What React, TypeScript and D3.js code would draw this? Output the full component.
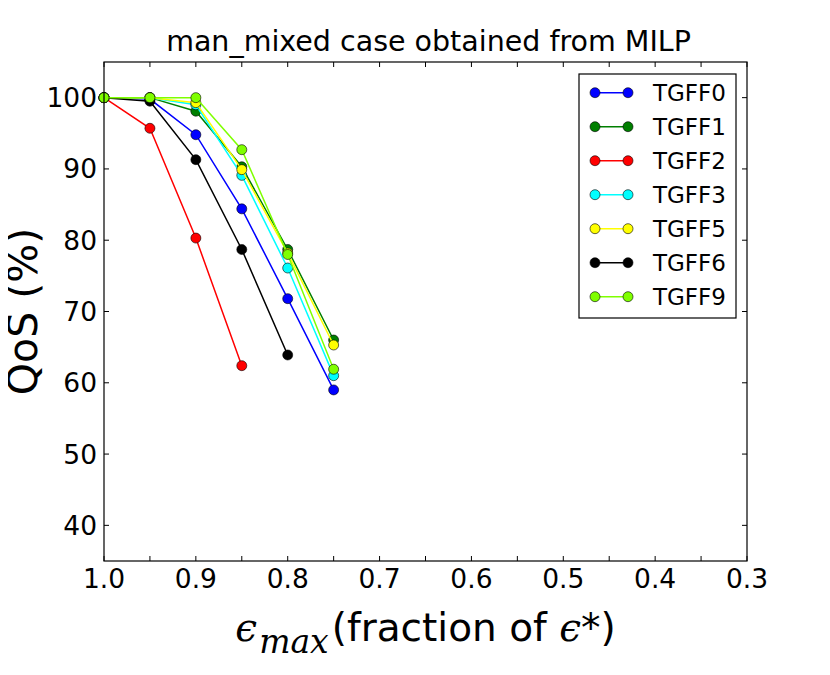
import * as d3 from "d3";
import { useEffect, useRef } from "react";

// x positions (fraction of epsilon*)
const fractions = [1.0, 0.95, 0.9, 0.85, 0.8, 0.75];

const seriesNames = ["TGFF0", "TGFF1", "TGFF2", "TGFF3", "TGFF5", "TGFF6", "TGFF9"];
const seriesColors = ["#0000ff", "#007f00", "#ff0000", "#00ffff", "#ffff00", "#000000", "#7fff00"];

// QoS (%) values
const tgff0 = [100, 99.8, 94.8, 84.4, 71.8, 59.0];
const tgff1 = [100, 100, 98.1, 90.3, 78.7, 66.0];
const tgff2 = [100, 95.7, 80.3, 62.4];
const tgff3 = [100, 100, 99.0, 89.1, 76.1, 61.0];
const tgff5 = [100, 100, 99.3, 89.9, 78.2, 65.3];
const tgff6 = [100, 99.5, 91.3, 78.7, 63.9];
const tgff9 = [100, 100, 100, 92.7, 78.0, 61.9];

const seriesValues = [tgff0, tgff1, tgff2, tgff3, tgff5, tgff6, tgff9];

const xTicks = [1.0, 0.9, 0.8, 0.7, 0.6, 0.5, 0.4, 0.3];
const yTicks = [40, 50, 60, 70, 80, 90, 100];

function App() {
  const ref = useRef<SVGSVGElement>(null);

  useEffect(() => {
    const svg = d3.select(ref.current);
    svg.selectAll("*").remove();

    const left = 104;
    const right = 747;
    const top = 62;
    const bottom = 561;
    const font = "DejaVu Sans, sans-serif";

    const x = d3.scaleLinear().domain([1.0, 0.3]).range([left, right]);
    const y = d3.scaleLinear().domain([35, 105]).range([bottom, top]);

    svg.append("rect").attr("width", 830).attr("height", 675).attr("fill", "white");

    // ticks on all four sides, pointing inward
    const xMinor = d3.range(0, 15).map((i) => 1.0 - i * 0.05);
    const g = svg.append("g");
    xMinor.forEach((v) => {
      g.append("line").attr("x1", x(v)).attr("x2", x(v)).attr("y1", bottom).attr("y2", bottom - 5).attr("stroke", "black");
      g.append("line").attr("x1", x(v)).attr("x2", x(v)).attr("y1", top).attr("y2", top + 5).attr("stroke", "black");
    });
    yTicks.forEach((v) => {
      g.append("line").attr("x1", left).attr("x2", left + 5).attr("y1", y(v)).attr("y2", y(v)).attr("stroke", "black");
      g.append("line").attr("x1", right).attr("x2", right - 5).attr("y1", y(v)).attr("y2", y(v)).attr("stroke", "black");
    });

    // tick labels
    svg
      .selectAll(".xt")
      .data(xTicks)
      .enter()
      .append("text")
      .attr("x", (d) => x(d))
      .attr("y", bottom + 27)
      .attr("text-anchor", "middle")
      .attr("font-family", font)
      .attr("font-size", 26.5)
      .text((d) => d.toFixed(1));

    svg
      .selectAll(".yt")
      .data(yTicks)
      .enter()
      .append("text")
      .attr("x", left - 7)
      .attr("y", (d) => y(d) + 9.5)
      .attr("text-anchor", "end")
      .attr("font-family", font)
      .attr("font-size", 26.5)
      .text((d) => d);

    // series
    const line = d3
      .line<number>()
      .x((_, i) => x(fractions[i]))
      .y((d) => y(d));

    seriesValues.forEach((vals, s) => {
      svg.append("path").attr("d", line(vals)).attr("fill", "none").attr("stroke", seriesColors[s]).attr("stroke-width", 1.5);
      svg
        .selectAll(".m" + s)
        .data(vals)
        .enter()
        .append("circle")
        .attr("cx", (_, i) => x(fractions[i]))
        .attr("cy", (d) => y(d))
        .attr("r", 5)
        .attr("fill", seriesColors[s])
        .attr("stroke", "black")
        .attr("stroke-width", 0.6);
    });

    // frame
    svg
      .append("rect")
      .attr("x", left)
      .attr("y", top)
      .attr("width", right - left)
      .attr("height", bottom - top)
      .attr("fill", "none")
      .attr("stroke", "black")
      .attr("stroke-width", 1.2);

    // legend
    const lg = svg.append("g");
    lg.append("rect")
      .attr("x", 579)
      .attr("y", 74)
      .attr("width", 157)
      .attr("height", 244)
      .attr("fill", "white")
      .attr("stroke", "black")
      .attr("stroke-width", 1.2);
    seriesNames.forEach((name, i) => {
      const ly = 92.7 + i * 34;
      lg.append("line").attr("x1", 595).attr("x2", 628).attr("y1", ly).attr("y2", ly).attr("stroke", seriesColors[i]).attr("stroke-width", 1.5);
      [595, 628].forEach((cx) =>
        lg.append("circle").attr("cx", cx).attr("cy", ly).attr("r", 5).attr("fill", seriesColors[i]).attr("stroke", "black").attr("stroke-width", 0.6)
      );
      lg.append("text")
        .attr("x", 653)
        .attr("y", ly + 8.3)
        .attr("font-family", font)
        .attr("font-size", 23)
        .text(name);
    });

    // title
    svg
      .append("text")
      .attr("x", (left + right) / 2 + 3)
      .attr("y", 51)
      .attr("text-anchor", "middle")
      .attr("font-family", font)
      .attr("font-size", 28.5)
      .text("man_mixed case obtained from MILP");

    // y label
    svg
      .append("text")
      .attr("transform", `translate(37, ${(top + bottom) / 2}) rotate(-90)`)
      .attr("text-anchor", "middle")
      .attr("font-family", font)
      .attr("font-size", 41)
      .text("QoS (%)");

    // x label
    const xl = svg
      .append("text")
      .attr("x", (left + right) / 2)
      .attr("y", 641)
      .attr("text-anchor", "middle")
      .attr("font-family", font)
      .attr("font-size", 39);
    xl.append("tspan").attr("font-family", "DejaVu Serif, serif").attr("font-style", "italic").text("ϵ");
    xl.append("tspan")
      .attr("font-family", "DejaVu Serif, serif")
      .attr("font-style", "italic")
      .attr("font-size", 33)
      .attr("dx", 2)
      .attr("dy", 12)
      .text("max");
    xl.append("tspan").attr("dy", -12).attr("dx", 3).text("(fraction of ");
    xl.append("tspan").attr("font-family", "DejaVu Serif, serif").attr("font-style", "italic").text("ϵ");
    xl.append("tspan").text("*)");
  }, []);

  return <svg ref={ref} width={830} height={675} style={{ display: "block", margin: -8 }} />;
}

export default App;
